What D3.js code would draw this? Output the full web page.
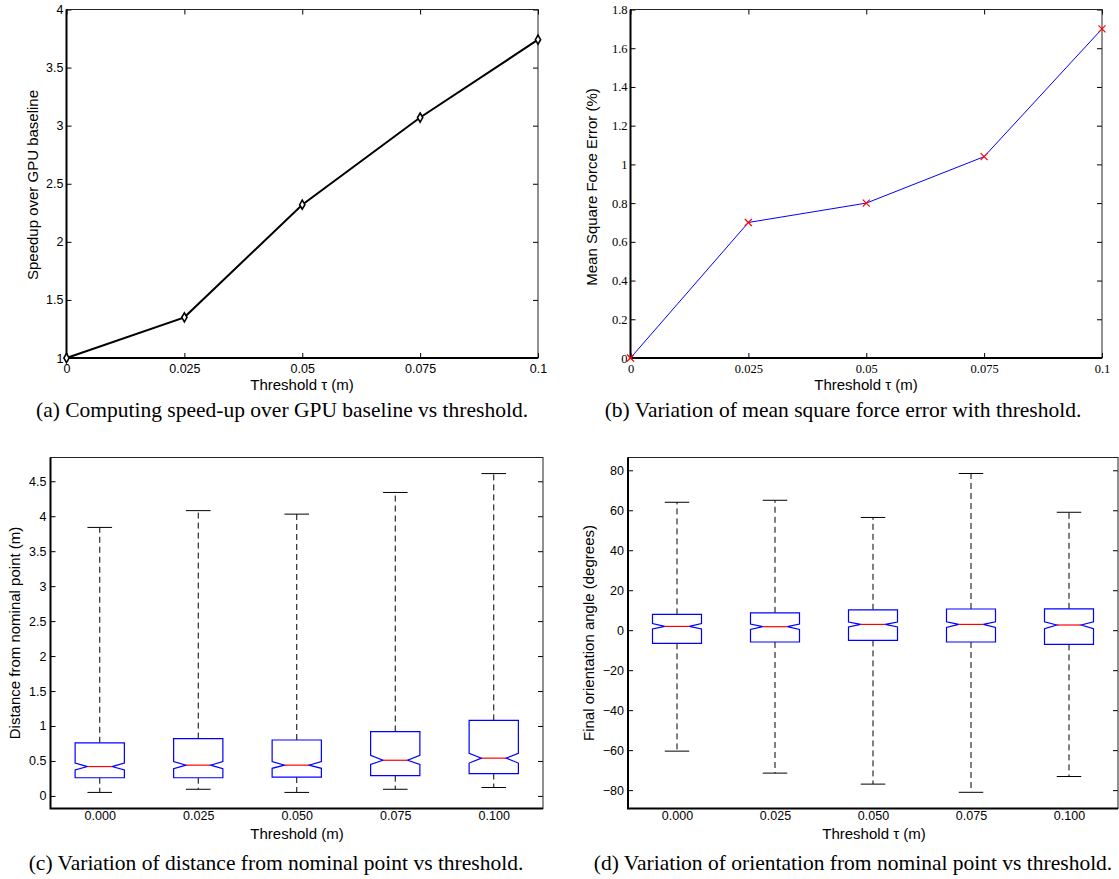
<!DOCTYPE html>
<html>
<head>
<meta charset="utf-8">
<script src="https://cdn.jsdelivr.net/npm/d3@7"></script>
<style>
body { margin: 0; background: #fff; }
text { fill: #000; }
</style>
</head>
<body>
<svg id="fig" width="1119" height="879"></svg>
<script>
// ---- data ----
var thresholds = [0, 0.025, 0.05, 0.075, 0.1];
var thresholdLabels = ["0", "0.025", "0.05", "0.075", "0.1"];

var speedup = [1, 1.35, 2.32, 3.07, 3.74];
var speedupTicks = [1, 1.5, 2, 2.5, 3, 3.5, 4];
var speedupTickLabels = ["1", "1.5", "2", "2.5", "3", "3.5", "4"];

var forceError = [0, 0.7, 0.8, 1.04, 1.7];
var errorTicks = [0, 0.2, 0.4, 0.6, 0.8, 1, 1.2, 1.4, 1.6, 1.8];
var errorTickLabels = ["0", "0.2", "0.4", "0.6", "0.8", "1", "1.2", "1.4", "1.6", "1.8"];

var boxLabels = ["0.000", "0.025", "0.050", "0.075", "0.100"];

var distWhiskerHi = [3.84, 4.08, 4.03, 4.34, 4.61];
var distQ3        = [0.76, 0.82, 0.80, 0.92, 1.08];
var distNotchHi   = [0.47, 0.49, 0.49, 0.58, 0.61];
var distMedian    = [0.42, 0.44, 0.44, 0.51, 0.54];
var distNotchLo   = [0.37, 0.39, 0.395, 0.45, 0.47];
var distQ1        = [0.26, 0.26, 0.27, 0.29, 0.32];
var distWhiskerLo = [0.05, 0.095, 0.05, 0.095, 0.12];
var distTicks = [0, 0.5, 1, 1.5, 2, 2.5, 3, 3.5, 4, 4.5];
var distTickLabels = ["0", "0.5", "1", "1.5", "2", "2.5", "3", "3.5", "4", "4.5"];

var angWhiskerHi = [64.0, 65.0, 56.4, 78.4, 59.0];
var angQ3        = [7.9, 8.7, 10.2, 10.6, 10.7];
var angNotchHi   = [3.3, 3.1, 4.1, 4.2, 4.2];
var angMedian    = [1.9, 1.75, 2.9, 2.9, 2.6];
var angNotchLo   = [0.6, 0.4, 1.6, 1.4, 0.8];
var angQ1        = [-6.6, -5.9, -5.1, -5.9, -7.1];
var angWhiskerLo = [-60.5, -71.5, -77.0, -81.1, -73.2];
var angTicks = [-80, -60, -40, -20, 0, 20, 40, 60, 80];
var angTickLabels = ["\u221280", "\u221260", "\u221240", "\u221220", "0", "20", "40", "60", "80"];

var svg = d3.select("#fig");
svg.append("rect").attr("width", 1119).attr("height", 879).attr("fill", "#fff");

var SANS = "'Liberation Sans', Arial, sans-serif";
var SERIF = "'Liberation Serif', 'Times New Roman', serif";

function labeller(ticks, labels) {
    return function(d) { return labels[ticks.indexOf(d)]; };
}

// frame + inward ticks, MATLAB style
function axes(x, y, o) {
    var xr = x.range(), yr = y.range();
    var g = svg.append("g");
    var font = o.font || SANS;

    g.append("g").attr("transform", "translate(0," + yr[0] + ")")
        .call(d3.axisBottom(x).tickValues(o.xTicks).tickFormat(labeller(o.xTicks, o.xLabels))
            .tickSize(o.xMarks ? -5 : 0).tickPadding(o.xPad));
    g.append("g").attr("transform", "translate(" + xr[0] + ",0)")
        .call(d3.axisLeft(y).tickValues(o.yTicks).tickFormat(labeller(o.yTicks, o.yLabels))
            .tickSize(-5).tickPadding(o.yPad));
    g.append("g").attr("transform", "translate(" + xr[1] + ",0)")
        .call(d3.axisRight(y).tickValues(o.yTicks).tickFormat("").tickSize(-5));
    if (o.xMarks) {
        g.append("g").attr("transform", "translate(0," + yr[1] + ")")
            .call(d3.axisTop(x).tickValues(o.xTicks).tickFormat("").tickSize(-5));
    }
    g.selectAll(".domain").remove();
    g.selectAll(".tick line").attr("stroke", "#000").attr("stroke-width", 1);
    g.selectAll("g").attr("font-family", font).attr("font-size", o.fontSize);
    g.selectAll(".tick text").attr("fill", "#000");

    // box
    g.append("rect").attr("x", xr[0]).attr("y", yr[1])
        .attr("width", xr[1] - xr[0]).attr("height", yr[0] - yr[1])
        .attr("fill", "none").attr("stroke", "#222").attr("stroke-width", 1);
    g.append("path").attr("d", "M" + xr[0] + "," + yr[1] + "V" + yr[0] + "H" + xr[1])
        .attr("fill", "none").attr("stroke", "#000").attr("stroke-width", 2);

    // titles
    g.append("text").attr("x", o.xTitlePos[0]).attr("y", o.xTitlePos[1])
        .attr("text-anchor", "middle").attr("dy", "0.35em")
        .style("font-family", SANS).style("font-size", "15px").text(o.xTitle);
    g.append("text").attr("transform", "translate(" + o.yTitlePos[0] + "," + o.yTitlePos[1] + ") rotate(-90)")
        .attr("text-anchor", "middle").attr("dy", "0.35em")
        .style("font-family", SANS).style("font-size", "15px").text(o.yTitle);
    g.append("text").attr("x", o.caption[0]).attr("y", o.caption[1])
        .attr("text-anchor", "middle").style("font-family", SERIF)
        .style("font-size", "21.5px").text(o.caption[2]);
    return g;
}

function boxes(x, y, s) {
    var hw = 0.25;
    var line = d3.line().x(function(p) { return x(p[0]); }).y(function(p) { return y(p[1]); });
    var g = svg.append("g");
    s.median.forEach(function(m, i) {
        var c = i + 1;
        g.append("path").attr("d", line([[c, s.q3[i]], [c, s.hi[i]]]))
            .attr("stroke", "#000").attr("stroke-dasharray", "6,4").attr("fill", "none");
        g.append("path").attr("d", line([[c, s.q1[i]], [c, s.lo[i]]]))
            .attr("stroke", "#000").attr("stroke-dasharray", "6,4").attr("fill", "none");
        g.append("path").attr("d", line([[c - hw / 2, s.hi[i]], [c + hw / 2, s.hi[i]]]))
            .attr("stroke", "#000").attr("fill", "none");
        g.append("path").attr("d", line([[c - hw / 2, s.lo[i]], [c + hw / 2, s.lo[i]]]))
            .attr("stroke", "#000").attr("fill", "none");
        var pts = [
            [c - hw, s.q1[i]], [c - hw, s.nlo[i]], [c - hw / 2, m], [c - hw, s.nhi[i]], [c - hw, s.q3[i]],
            [c + hw, s.q3[i]], [c + hw, s.nhi[i]], [c + hw / 2, m], [c + hw, s.nlo[i]], [c + hw, s.q1[i]]
        ];
        g.append("path").attr("d", line(pts) + "Z")
            .attr("stroke", "#0000ff").attr("fill", "#fff").attr("stroke-width", 1.2);
        g.append("path").attr("d", line([[c - hw / 2, m], [c + hw / 2, m]]))
            .attr("stroke", "#ff0000").attr("stroke-width", 1.2);
    });
}

// ---- (a) speed-up ----
var xa = d3.scaleLinear().domain([0, 0.1]).range([66.5, 538]);
var ya = d3.scaleLinear().domain([1, 4]).range([358, 9.5]);
axes(xa, ya, {
    xTicks: thresholds, xLabels: thresholdLabels, xMarks: true, xPad: 6,
    yTicks: speedupTicks, yLabels: speedupTickLabels, yPad: 3, fontSize: 12.5,
    xTitle: "Threshold \u03c4 (m)", xTitlePos: [302, 385],
    yTitle: "Speedup over GPU baseline", yTitlePos: [33, 185],
    caption: [282, 417, "(a) Computing speed-up over GPU baseline vs threshold."]
});
svg.append("path").datum(speedup)
    .attr("d", d3.line().x(function(d, i) { return xa(thresholds[i]); }).y(function(d) { return ya(d); }))
    .attr("fill", "none").attr("stroke", "#000").attr("stroke-width", 2);
svg.append("g").selectAll("path").data(speedup).join("path")
    .attr("transform", function(d, i) { return "translate(" + xa(thresholds[i]) + "," + ya(d) + ")"; })
    .attr("d", d3.symbol(d3.symbolDiamond, 24))
    .attr("fill", "#fff").attr("stroke", "#000").attr("stroke-width", 1.6);

// ---- (b) force error ----
var xb = d3.scaleLinear().domain([0, 0.1]).range([630.5, 1102]);
var yb = d3.scaleLinear().domain([0, 1.8]).range([358, 9.5]);
axes(xb, yb, {
    xTicks: thresholds, xLabels: thresholdLabels, xMarks: true, xPad: 6,
    yTicks: errorTicks, yLabels: errorTickLabels, yPad: 3, fontSize: 12.5, font: SERIF,
    xTitle: "Threshold \u03c4 (m)", xTitlePos: [866, 385],
    yTitle: "Mean Square Force Error (%)", yTitlePos: [592, 187],
    caption: [843, 417, "(b) Variation of mean square force error with threshold."]
});
svg.append("path").datum(forceError)
    .attr("d", d3.line().x(function(d, i) { return xb(thresholds[i]); }).y(function(d) { return yb(d); }))
    .attr("fill", "none").attr("stroke", "#0000ff").attr("stroke-width", 1);
svg.append("g").selectAll("path").data(forceError).join("path")
    .attr("transform", function(d, i) { return "translate(" + xb(thresholds[i]) + "," + yb(d) + ")"; })
    .attr("d", d3.symbol(d3.symbolX, 34))
    .attr("fill", "none").attr("stroke", "#ff0000").attr("stroke-width", 1.2);

// ---- (c) distance boxplot ----
var boxPos = [1, 2, 3, 4, 5];
var xc = d3.scaleLinear().domain([0.5, 5.5]).range([50.5, 543]);
var yc = d3.scaleLinear().domain([-0.18, 4.84]).range([808.5, 457.5]);
axes(xc, yc, {
    xTicks: boxPos, xLabels: boxLabels, xMarks: false, xPad: 3,
    yTicks: distTicks, yLabels: distTickLabels, yPad: 4, fontSize: 12.5,
    xTitle: "Threshold (m)", xTitlePos: [297, 834],
    yTitle: "Distance from nominal point (m)", yTitlePos: [15, 633],
    caption: [276, 870, "(c) Variation of distance from nominal point vs threshold."]
});
boxes(xc, yc, {
    hi: distWhiskerHi, q3: distQ3, nhi: distNotchHi, median: distMedian,
    nlo: distNotchLo, q1: distQ1, lo: distWhiskerLo
});

// ---- (d) orientation boxplot ----
var xd = d3.scaleLinear().domain([0.5, 5.5]).range([628, 1118]);
var yd = d3.scaleLinear().domain([-89.2, 86.4]).range([808.5, 457.5]);
axes(xd, yd, {
    xTicks: boxPos, xLabels: boxLabels, xMarks: false, xPad: 3,
    yTicks: angTicks, yLabels: angTickLabels, yPad: 4, fontSize: 12.5,
    xTitle: "Threshold \u03c4 (m)", xTitlePos: [874, 834],
    yTitle: "Final orientation angle (degrees)", yTitlePos: [589, 633],
    caption: [853, 870, "(d) Variation of orientation from nominal point vs threshold."]
});
boxes(xd, yd, {
    hi: angWhiskerHi, q3: angQ3, nhi: angNotchHi, median: angMedian,
    nlo: angNotchLo, q1: angQ1, lo: angWhiskerLo
});
</script>
</body>
</html>
